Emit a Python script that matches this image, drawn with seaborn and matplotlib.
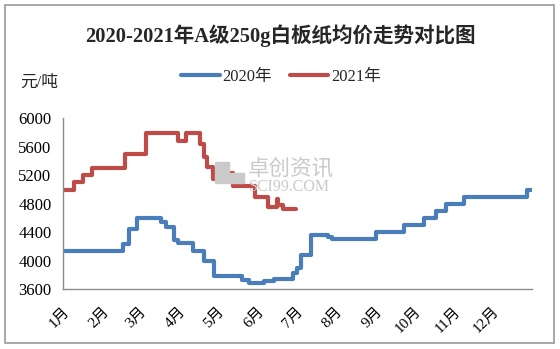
import matplotlib
matplotlib.use('Agg')
import matplotlib.pyplot as plt
import seaborn as sns
import pandas as pd
from matplotlib.patches import Rectangle
from matplotlib.lines import Line2D

# ---- data (day of year, price in 元/吨) ----
days_2020 = [0, 47, 52, 58, 77, 81, 87, 90, 102, 110, 118, 140, 145, 157, 165,
             180, 183, 186, 194, 207, 210, 244, 266, 282, 291, 299, 313, 362, 365]
price_2020 = [4140, 4230, 4440, 4600, 4540, 4470, 4290, 4250, 4140, 4000, 3780,
              3730, 3690, 3710, 3750, 3830, 3900, 4080, 4360, 4330, 4300, 4400,
              4500, 4600, 4700, 4800, 4900, 5000, 5000]
days_2021 = [0, 9, 16, 23, 49, 65, 90, 96, 107, 110, 113, 117, 129, 133, 150,
             160, 167, 168, 172, 182]
price_2021 = [5000, 5100, 5200, 5300, 5500, 5800, 5680, 5800, 5640, 5460, 5320,
              5150, 5230, 5050, 4900, 4750, 4870, 4780, 4730, 4730]
series_names = ['2020年', '2021年']
month_starts = [0, 31, 60, 91, 121, 152, 182, 213, 244, 274, 305, 335]
month_labels = ['1月', '2月', '3月', '4月', '5月', '6月', '7月', '8月', '9月',
                '10月', '11月', '12月']
y_ticks = [3600, 4000, 4400, 4800, 5200, 5600, 6000]
title_text = '2020-2021年A级250g白板纸均价走势对比图'
unit_text = '元/吨'

sns.set_theme(style='white')
plt.rcParams['font.family'] = ['Liberation Serif', 'Noto Sans CJK SC', 'DejaVu Sans']
plt.rcParams['axes.unicode_minus'] = False

df = pd.concat([
    pd.DataFrame({'day': days_2020, 'price': price_2020, 'year': series_names[0]}),
    pd.DataFrame({'day': days_2021, 'price': price_2021, 'year': series_names[1]}),
], ignore_index=True)

fig = plt.figure(figsize=(5.6, 3.49), dpi=100)
ax = fig.add_axes([62.5 / 560, 1 - 289.3 / 349, (532 - 62.5) / 560, (289.3 - 118.3) / 349])

sns.lineplot(data=df, x='day', y='price', hue='year',
             palette={series_names[0]: '#4a7ebb', series_names[1]: '#be4b48'},
             drawstyle='steps-post', linewidth=3.0, ax=ax, legend=False,
             estimator=None, sort=False)

ax.set_xlim(0, 366)
ax.set_ylim(3600, 6000)
ax.set_yticks(y_ticks)
ax.set_yticklabels([str(v) for v in y_ticks], fontsize=12)
ax.set_xticks(month_starts + [366])
ax.set_xticklabels(month_labels + [''], fontsize=11, rotation=45,
                   ha='right', va='top', rotation_mode='anchor')
ax.set_xlabel('')
ax.set_ylabel('')
for s in ['top', 'right']:
    ax.spines[s].set_visible(False)
for s in ['left', 'bottom']:
    ax.spines[s].set_color('#8c8c8c')
    ax.spines[s].set_linewidth(1.0)
ax.tick_params(axis='both', which='both', direction='out', length=4,
               color='#8c8c8c', width=1, labelcolor='black')
ax.tick_params(axis='x', pad=7)
ax.tick_params(axis='y', pad=4)
ax.grid(False)

# legend
handles = [Line2D([], [], color='#4a7ebb', lw=3.0), Line2D([], [], color='#be4b48', lw=3.0)]
fig.legend(handles, series_names, loc='center', bbox_to_anchor=(281 / 560, 1 - 77 / 349),
           ncol=2, frameon=False, fontsize=12, handlelength=2.3, handletextpad=0.15,
           columnspacing=1.1)

fig.text(280 / 560, 1 - 36 / 349, title_text, ha='center', va='center',
         fontsize=14.8, fontweight='bold')
fig.text(20 / 560, 1 - 83 / 349, unit_text, ha='left', va='center', fontsize=12)

# watermark
wm = '#cacaca'
fig.text(248 / 560, 1 - 169 / 349, '卓创资讯', ha='left', va='center', fontsize=15.5,
         color=wm, family=['Noto Sans CJK SC'])
fig.text(249 / 560, 1 - 187 / 349, 'SCI99.COM', ha='left', va='center', fontsize=11.5,
         color=wm)
for (x0, y0, w, h) in [(215, 162, 14, 10), (215, 173, 14, 10), (230, 173, 14, 10)]:
    fig.patches.append(Rectangle((x0 / 560, 1 - (y0 + h) / 349), w / 560, h / 349,
                                 transform=fig.transFigure, color=wm, zorder=0))

# outer border
fig.patches.append(Rectangle((4.5 / 560, 1 - 343 / 349), 549.5 / 560, 338 / 349,
                             transform=fig.transFigure, fill=False,
                             edgecolor='#9a9a9a', linewidth=1.2))

fig.savefig('out.png', dpi=100)
